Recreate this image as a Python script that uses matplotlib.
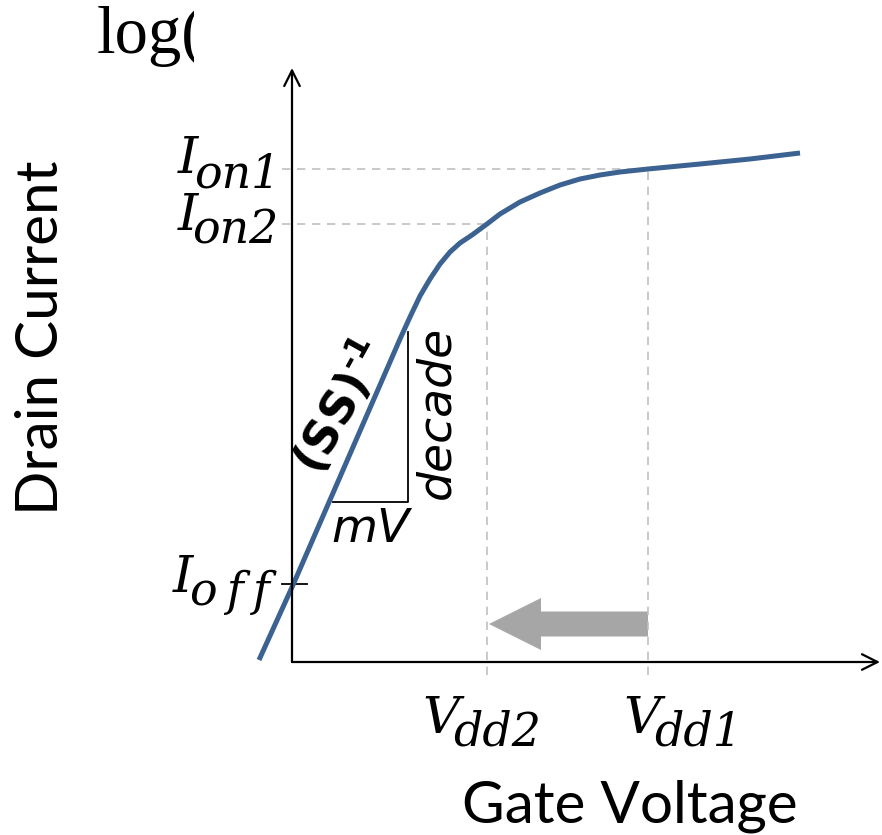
import matplotlib.pyplot as plt
from matplotlib.transforms import Bbox, TransformedBbox

plt.rcParams['mathtext.fontset'] = 'custom'
plt.rcParams['mathtext.rm'] = 'DejaVu Sans:bold'
plt.rcParams['mathtext.bf'] = 'DejaVu Sans:bold'

# gate voltage (V) and log drain current (arbitrary decades)
vg = [-0.0825, 0.0025, 0.27, 0.295, 0.32, 0.345, 0.37, 0.395, 0.42, 0.45,
      0.4875, 0.52, 0.57, 0.62, 0.67, 0.72, 0.77, 0.82, 0.89, 1.02, 1.145, 1.27]
log_id = [0.02, 0.77, 3.23, 3.45, 3.66, 3.83, 3.98, 4.10, 4.19, 4.27,
          4.38, 4.48, 4.60, 4.69, 4.77, 4.83, 4.87, 4.90, 4.93, 4.98, 5.03, 5.09]

vdd1, vdd2 = 0.89, 0.4875
ion1, ion2, ioff = 4.93, 4.38, 0.78

# slope triangle (mV / decade)
tri_x = [0.1025, 0.29, 0.29]
tri_y = [1.60, 1.60, 3.30]

blue = '#3b6291'
dash_col = '#c0c0c0'
serif_it = dict(family='DejaVu Serif', style='italic', va='baseline')

fig = plt.figure(figsize=(8.82, 8.35), dpi=100)
ax = fig.add_axes([0, 0, 1, 1])
ax.set_xlim(-0.73, 1.475)
ax.set_ylim(-1.73, 6.62)
ax.axis('off')

# axes with open arrow heads
arr = dict(arrowstyle='->', lw=1.6, color='black', mutation_scale=28,
           shrinkA=0, shrinkB=0)
ax.annotate('', xy=(1.47, 0), xytext=(0, 0), arrowprops=arr)
ax.annotate('', xy=(0, 5.94), xytext=(0, 0), arrowprops=arr)

# guide lines
dash = dict(color=dash_col, lw=1.2, dashes=(5, 4))
ax.plot([-0.025, vdd1], [ion1, ion1], **dash)
ax.plot([-0.025, vdd2], [ion2, ion2], **dash)
ax.plot([vdd1, vdd1], [-0.13, ion1], **dash)
ax.plot([vdd2, vdd2], [-0.13, ion2], **dash)
ax.plot([-0.025, 0.0375], [ioff, ioff], color='black', lw=1.3)

ax.plot(tri_x, tri_y, color='black', lw=1.3)

ax.plot(vg, log_id, color=blue, lw=3.6, solid_capstyle='butt')

# supply voltage scaling arrow
ax.arrow(vdd1, 0.38, vdd2 - vdd1 + 0.005, 0, width=0.25, head_width=0.52,
         head_length=0.13, length_includes_head=True, color='#a6a6a6', lw=0)


def current_label(level, sub, x_main, x_sub, dy_main, dy_sub):
    ax.text(x_main, level + dy_main, 'I', fontsize=37, ha='left', **serif_it)
    ax.text(x_sub, level + dy_sub, sub, fontsize=33, ha='right', **serif_it)


def voltage_label(v, sub, dx_main, dx_sub):
    ax.text(v + dx_main, -0.71, 'V', fontsize=37, ha='left', **serif_it)
    ax.text(v + dx_sub, -0.83, sub, fontsize=33, ha='left', **serif_it)


current_label(ion1, 'on1', -0.285, -0.03, -0.04, -0.18)
current_label(ion2, 'on2', -0.285, -0.035, -0.06, -0.19)
current_label(ioff, 'o\u2009f\u2009f', -0.2975, -0.055, -0.08, -0.21)
voltage_label(vdd2, 'dd2', -0.1625, -0.085)
voltage_label(vdd1, 'dd1', -0.0625, 0.015)

ax.text(0.1975, 1.32, 'mV', fontsize=34, style='italic', family='DejaVu Sans',
        ha='center', va='center')
ax.text(0.3625, 2.50, 'decade', fontsize=34, style='italic', family='DejaVu Sans',
        rotation=90, ha='center', va='center')
ax.text(0.12, 2.55, '$\\mathbf{(SS)^{\u20101}}$', fontsize=33, rotation=61,
        rotation_mode='anchor', ha='center', va='center')

ax.text(-0.625, 3.24, 'Drain Current', fontsize=42, family='Lato',
        rotation=90, ha='center', va='center')
ax.text(0.845, -1.44, 'Gate Voltage', fontsize=42, family='Lato',
        ha='center', va='center')

t = ax.text(97 / 882, 1 - 53 / 835, 'log(', fontsize=48, transform=fig.transFigure,
            family='Liberation Serif', va='baseline', clip_on=True)
t.set_clip_box(TransformedBbox(Bbox([[0, 0], [194 / 882, 1]]), fig.transFigure))

fig.savefig('out.png', dpi=100)
